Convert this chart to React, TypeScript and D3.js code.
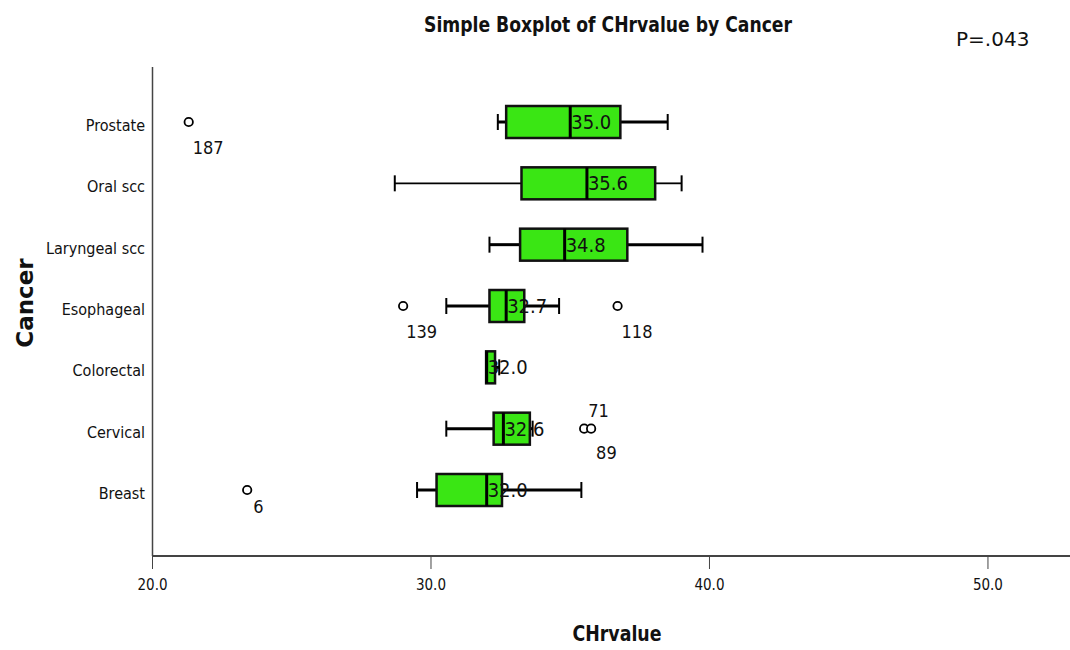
import React from "react";
import * as d3 from "d3";

const categories = ["Prostate", "Oral scc", "Laryngeal scc", "Esophageal", "Colorectal", "Cervical", "Breast"];
const whiskerLow = [32.4, 28.7, 32.1, 30.55, 31.98, 30.55, 29.5];
const q1 = [32.7, 33.25, 33.2, 32.1, 31.98, 32.25, 30.2];
const median = [35.0, 35.6, 34.8, 32.7, 32.0, 32.6, 32.0];
const q3 = [36.8, 38.05, 37.05, 33.35, 32.3, 33.55, 32.55];
const whiskerHigh = [38.5, 39.0, 39.75, 34.6, 32.45, 33.65, 35.4];
const medianLabels = ["35.0", "35.6", "34.8", "32.7", "32.0", "32.6", "32.0"];

const outlierCategory = ["Prostate", "Esophageal", "Esophageal", "Cervical", "Cervical", "Breast"];
const outlierValue = [21.3, 29.0, 36.7, 35.5, 35.75, 23.4];
const outlierLabel = ["187", "139", "118", "71", "89", "6"];

const xTicks = [20, 30, 40, 50];

// label placement relative to circle (style only)
const outlierLabelOffset: [number, number][] = [[4, 26], [3, 26], [4, 26], [4, -18], [5, 24], [6, 17]];
const whiskerWidth = [3, 1.8, 3, 3, 3, 3, 3];

const W = 1070, H = 650;
const FONT = "'DejaVu Sans Condensed', 'DejaVu Sans', sans-serif";

export default function App() {
  const x = d3.scaleLinear().domain([20, 53]).range([152.5, 1071.5]);
  const y = d3.scalePoint<string>().domain(categories).range([122, 490]);
  const boxH = 32;
  const capH = 16;
  const axisY = 556;
  const axisX = 152.5;

  return (
    <svg width={W} height={H} style={{ position: "absolute", left: 0, top: 0, background: "#fff" }}>
      <rect x={0} y={0} width={W} height={H} fill="#fff" />
      {/* title */}
      <text x={608} y={32} textAnchor="middle" fontFamily={FONT} fontWeight="bold" fontSize={21} textLength={368} lengthAdjust="spacingAndGlyphs" fill="#111">
        Simple Boxplot of CHrvalue by Cancer
      </text>
      <text x={956} y={46} fontFamily="'DejaVu Sans', sans-serif" fontSize={20} fill="#111">P=.043</text>

      {/* axes */}
      <line x1={axisX} x2={axisX} y1={67} y2={axisY} stroke="#444" strokeWidth={1.5} />
      <line x1={axisX} x2={W} y1={axisY} y2={axisY} stroke="#444" strokeWidth={2} />
      {xTicks.map((t) => (
        <g key={t}>
          <line x1={x(t)} x2={x(t)} y1={axisY} y2={axisY + 13} stroke="#444" strokeWidth={1} />
          <text x={x(t)} y={590} textAnchor="middle" fontFamily={FONT} fontSize={15} fill="#111">
            {t.toFixed(1)}
          </text>
        </g>
      ))}
      <text x={617} y={641} textAnchor="middle" fontFamily={FONT} fontWeight="bold" fontSize={21} textLength={89} lengthAdjust="spacingAndGlyphs" fill="#111">CHrvalue</text>
      <text transform={`translate(33,303) rotate(-90)`} textAnchor="middle" fontFamily="'DejaVu Sans', sans-serif" fontWeight="bold" fontSize={23} fill="#111">Cancer</text>

      {categories.map((c, i) => {
        const cy = y(c)!;
        return (
          <g key={c}>
            <text x={145} y={cy + 9} textAnchor="end" fontFamily={FONT} fontSize={16} fill="#111">{c}</text>
            {/* whiskers */}
            <line x1={x(whiskerLow[i])} x2={x(q1[i])} y1={cy} y2={cy} stroke="#000" strokeWidth={whiskerWidth[i]} />
            <line x1={x(q3[i])} x2={x(whiskerHigh[i])} y1={cy} y2={cy} stroke="#000" strokeWidth={whiskerWidth[i]} />
            {whiskerLow[i] < q1[i] && (
              <line x1={x(whiskerLow[i])} x2={x(whiskerLow[i])} y1={cy - capH / 2} y2={cy + capH / 2} stroke="#000" strokeWidth={2} />
            )}
            <line x1={x(whiskerHigh[i])} x2={x(whiskerHigh[i])} y1={cy - capH / 2} y2={cy + capH / 2} stroke="#000" strokeWidth={2} />
            {/* box */}
            <rect x={x(q1[i])} y={cy - boxH / 2} width={x(q3[i]) - x(q1[i])} height={boxH} fill="#3ae614" stroke="#111" strokeWidth={2.5} />
            <line x1={x(median[i])} x2={x(median[i])} y1={cy - boxH / 2} y2={cy + boxH / 2} stroke="#000" strokeWidth={3} />
            <text x={x(median[i]) + 1} y={cy + 7} fontFamily={FONT} fontSize={20} fill="#111">{medianLabels[i]}</text>
          </g>
        );
      })}

      {outlierValue.map((v, i) => {
        const cx = x(v);
        const cy = y(outlierCategory[i])!;
        const [dx, dy] = outlierLabelOffset[i];
        return (
          <g key={i}>
            <circle cx={cx} cy={cy} r={4.2} fill="#fff" stroke="#000" strokeWidth={1.8} />
            <text x={cx + dx} y={cy + dy + 6} fontFamily={FONT} fontSize={18} fill="#111">{outlierLabel[i]}</text>
          </g>
        );
      })}
    </svg>
  );
}
